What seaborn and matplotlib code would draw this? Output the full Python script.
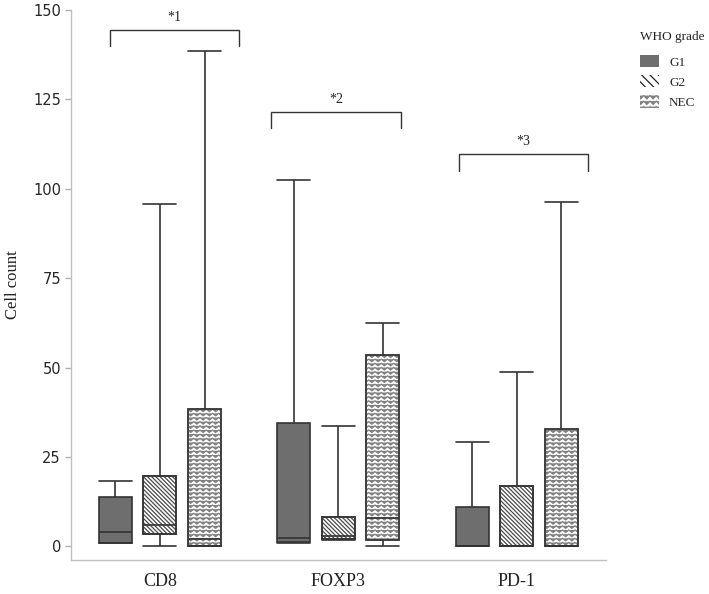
import warnings
import numpy as np
import pandas as pd
import seaborn as sns
import matplotlib.pyplot as plt
from matplotlib import hatch as mhatch
from matplotlib.path import Path
from matplotlib.patches import Patch, PathPatch

warnings.filterwarnings('ignore')

# categories
markers = ['CD8', 'FOXP3', 'PD-1']
grades = ['G1', 'G2', 'NEC']

# five-number summaries: min, q1, median, q3, max
cd8_g1 = [1.0, 1.0, 4.0, 13.8, 18.2]
cd8_g2 = [0.0, 3.6, 6.0, 19.7, 95.8]
cd8_nec = [0.0, 0.0, 2.0, 38.5, 138.5]
foxp3_g1 = [1.0, 1.3, 2.3, 34.6, 102.5]
foxp3_g2 = [1.8, 2.0, 3.0, 8.1, 33.6]
foxp3_nec = [0.0, 1.8, 7.9, 53.4, 62.5]
pd1_g1 = [0.0, 0.0, 0.0, 10.9, 29.2]
pd1_g2 = [0.0, 0.0, 0.2, 16.8, 48.8]
pd1_nec = [0.0, 0.0, 0.0, 32.8, 96.2]

# significance brackets: label, left, right
bracket_labels = ['*1', '*2', '*3']
bracket_left = [-0.28, 0.623, 1.675]
bracket_right = [0.446, 1.353, 2.401]
bracket_top = [144.5, 121.6, 109.7]

summaries = {
    ('CD8', 'G1'): cd8_g1, ('CD8', 'G2'): cd8_g2, ('CD8', 'NEC'): cd8_nec,
    ('FOXP3', 'G1'): foxp3_g1, ('FOXP3', 'G2'): foxp3_g2, ('FOXP3', 'NEC'): foxp3_nec,
    ('PD-1', 'G1'): pd1_g1, ('PD-1', 'G2'): pd1_g2, ('PD-1', 'NEC'): pd1_nec,
}
rows = []
for (m, g), vals in summaries.items():
    for v in vals:
        rows.append({'marker': m, 'grade': g, 'count': v})
df = pd.DataFrame(rows)


# wavy hatch for the NEC boxes ('~' in the hatch string)
class WaveHatch(mhatch.HatchPatternBase):
    def __init__(self, hatch, density):
        self.num_rows = int(hatch.count('~') * density)
        self.num_points = 2 * 16 + 1
        self.num_vertices = self.num_rows * self.num_points

    def set_vertices_and_codes(self, vertices, codes):
        xs = np.linspace(0, 1, self.num_points)
        amp = 0.3 / max(self.num_rows, 1)
        signs = np.where(np.arange(self.num_points) % 2 == 0, 1.0, -1.0)
        for i in range(self.num_rows):
            s = i * self.num_points
            vertices[s:s + self.num_points, 0] = xs
            vertices[s:s + self.num_points, 1] = (i + 0.5) / self.num_rows + amp * signs
            codes[s:s + self.num_points] = Path.LINETO
            codes[s] = Path.MOVETO


mhatch._hatch_types.append(WaveHatch)

sns.set_style('ticks')
plt.rcParams['hatch.linewidth'] = 0.9
serif = 'Liberation Serif'

line_color = '#333333'
g2_hatch = '#4a4a4a'
nec_hatch = '#808080'
g1_color = '#6e6e6e'
palette = {'G1': g1_color, 'G2': 'white', 'NEC': 'white'}
box_w = 0.25 * (1 - 0.26)

fig = plt.figure(figsize=(7.09, 5.94), dpi=100)
ax = fig.add_axes([0.0997, 0.0572, 0.755, 0.926])

sns.boxplot(data=df, x='marker', y='count', hue='grade', order=markers, hue_order=grades,
            palette=palette, linecolor=line_color, linewidth=1.2, width=0.75, gap=0.26,
            whis=(0, 100), legend=False, ax=ax)

# hatches by box position inside each group; a dark outline is laid on top
for p in list(ax.patches):
    ext = p.get_path().get_extents()
    cx = (ext.x0 + ext.x1) / 2
    off = cx - round(cx)
    if off > 0.1:
        p.set_hatch('~~~~')
        p.set_edgecolor(nec_hatch)
    elif off > -0.1:
        p.set_hatch('\\' * 8)
        p.set_edgecolor(g2_hatch)
    else:
        continue
    ax.add_patch(PathPatch(p.get_path(), facecolor='none', edgecolor=line_color,
                           lw=1.2, zorder=p.get_zorder() + 0.1))

# caps as wide as the boxes
for ln in ax.lines:
    xd = np.asarray(ln.get_xdata(), dtype=float)
    yd = np.asarray(ln.get_ydata(), dtype=float)
    if len(xd) == 2 and yd[0] == yd[1] and xd[0] != xd[1]:
        c = xd.mean()
        ln.set_xdata([c - box_w / 2, c + box_w / 2])

# significance brackets
for lab, x0, x1, yt in zip(bracket_labels, bracket_left, bracket_right, bracket_top):
    ax.plot([x0, x0, x1, x1], [yt - 4.6, yt, yt, yt - 4.6], color='#333333', lw=1.0,
            solid_joinstyle='miter')
    ax.text((x0 + x1) / 2, yt + 3.4, lab, ha='center', va='center',
            family=serif, fontsize=10, color='#222222')

ax.set_xlim(-0.5, 2.5)
ax.set_ylim(-3.8, 150)
ax.set_yticks([0, 25, 50, 75, 100, 125, 150])
ax.set_xlabel('')
ax.set_ylabel('Cell count', family=serif, fontsize=12, color='#222222')
ax.yaxis.set_label_coords(-0.093, 0.5)

for s in ['top', 'right']:
    ax.spines[s].set_visible(False)
for s in ['left', 'bottom']:
    ax.spines[s].set_color('#c0c0c0')
    ax.spines[s].set_linewidth(1.0)

ax.tick_params(axis='y', length=4, width=1, color='#b0b0b0', pad=3,
               labelsize=10.5, labelcolor='#262626')
ax.tick_params(axis='x', length=0, pad=9, labelsize=13, labelcolor='#222222')
for t in ax.get_xticklabels():
    t.set_family(serif)
for t in ax.get_yticklabels():
    t.set_family('DejaVu Sans')

handles = [
    Patch(facecolor=g1_color, edgecolor=g1_color, lw=0),
    Patch(facecolor='white', edgecolor='#222222', hatch='\\' * 4, lw=0),
    Patch(facecolor='white', edgecolor=nec_hatch, hatch='~~~', lw=0),
]
fig.text(640.5 / 709, 1 - 37 / 594, 'WHO grade', ha='left', va='center',
         family=serif, fontsize=9.5, color='#222222')
leg = fig.legend(handles, grades, loc='upper left',
                 bbox_to_anchor=(640 / 709, 1 - 55 / 594), frameon=False,
                 prop={'family': serif, 'size': 9.5}, borderpad=0, borderaxespad=0,
                 handlelength=1.45, handleheight=1.05, handletextpad=0.75,
                 labelspacing=0.5)

fig.savefig('out.png', dpi=100)
